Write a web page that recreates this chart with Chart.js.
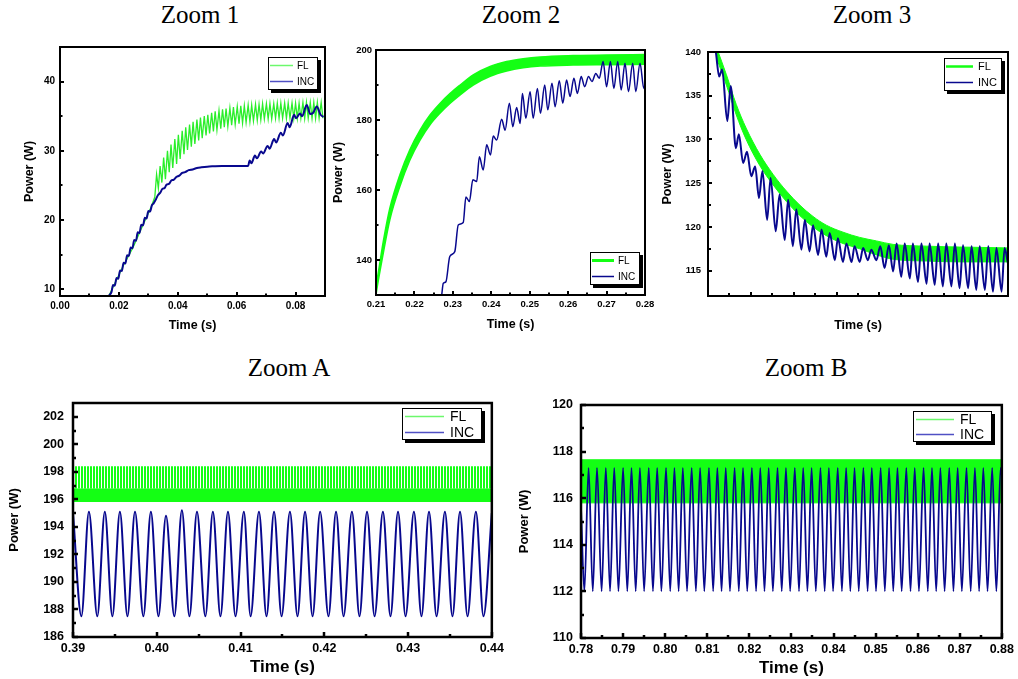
<!DOCTYPE html>
<html>
<head>
<meta charset="utf-8">
<script src="https://cdn.jsdelivr.net/npm/chart.js@4.4.1/dist/chart.umd.min.js"></script>
<style>
  html, body { margin: 0; padding: 0; background: #fff; width: 1018px; height: 679px; overflow: hidden; }
  canvas { position: absolute; }
  .ttl { position: absolute; width: 200px; text-align: center; color: #000;
         font: 25px/25px 'Liberation Serif', 'Times New Roman', serif; }
</style>
</head>
<body>
<div class="ttl" style="left:100px;top:2px">Zoom 1</div>
<div class="ttl" style="left:421px;top:2px">Zoom 2</div>
<div class="ttl" style="left:772px;top:2px">Zoom 3</div>
<div class="ttl" style="left:189px;top:355px">Zoom A</div>
<div class="ttl" style="left:706px;top:355px">Zoom B</div>

<canvas id="zoom1" width="335" height="310" style="left:0px;top:35px"></canvas>
<canvas id="zoom2" width="332" height="310" style="left:328px;top:35px"></canvas>
<canvas id="zoom3" width="358" height="310" style="left:660px;top:35px"></canvas>
<canvas id="zoomA" width="508" height="294" style="left:0px;top:385px"></canvas>
<canvas id="zoomB" width="508" height="294" style="left:510px;top:385px"></canvas>

<script>
Chart.defaults.font.family = "'Liberation Sans', Arial, sans-serif";
Chart.defaults.color = '#000';

const GREEN = '#2aee2a';
const GREEN_FILL = '#14ff14';
const BLUE = '#08088e';
const legendNames = ['FL', 'INC'];

// ---- Zoom 1 ----
const z1TimeTicks = [0, 0.02, 0.04, 0.06, 0.08];
const z1TimeMinor = [0.01, 0.03, 0.05, 0.07];
const z1PowerTicks = [10, 20, 30, 40];
const z1PowerMinor = [15, 25, 35];
const z1IncTime = [0.0167,0.0175,0.0180,0.0186,0.0192,0.0198,0.0204,0.0210,0.0216,0.0222,0.0228,0.0234,0.0240,0.0246,0.0252,0.0258,0.0264,0.0270,0.0276,0.0282,0.0288,0.0294,0.0300,0.0306,0.0312,0.0318,0.0326,0.0333,0.0340,0.0348,0.0355,0.0362,0.0370,0.0378,0.0386,0.0395,0.0405,0.0415,0.0425,0.0437,0.0450,0.0465,0.0480,0.0500,0.0520,0.0550,0.0639,0.0644,0.0650,0.0662,0.0669,0.0683,0.0690,0.0705,0.0712,0.0727,0.0734,0.0750,0.0757,0.0773,0.0780,0.0795,0.0802,0.0815,0.0822,0.0838,0.0850,0.0860,0.0872,0.0885,0.0895];
const z1IncPower = [9.1,9.6,10.6,10.5,11.6,11.5,12.7,12.6,13.8,13.7,14.9,14.8,16.0,15.9,17.1,17.0,18.2,18.1,19.3,19.2,20.3,20.2,21.3,21.2,22.1,22.4,23.0,23.6,23.9,24.5,24.6,25.1,25.2,25.7,25.8,26.2,26.4,26.8,26.9,27.2,27.3,27.5,27.6,27.7,27.75,27.8,27.8,28.6,28.2,29.3,28.9,29.9,29.6,30.7,30.3,31.7,31.2,32.6,32.2,34.0,33.4,35.2,34.7,35.4,35.0,36.6,35.3,35.5,36.4,35.2,34.9];
const z1FlRiseTime = [0.0167,0.0186,0.0214,0.0248,0.0281,0.0310,0.0322];
const z1FlRisePower = [9.1,10.8,13.3,16.0,19.2,21.9,23.3];
const z1FlPeakTime = [0.0328,0.0340,0.0352,0.0365,0.0377,0.0390,0.0402,0.0415,0.0427,0.0440,0.0452,0.0465,0.0477,0.0490,0.0502,0.0515,0.0527,0.0540,0.0552,0.0564,0.0577,0.0589,0.0602,0.0614,0.0626,0.0639,0.0651,0.0664,0.0676,0.0688,0.0701,0.0713,0.0726,0.0738,0.0750,0.0763,0.0775,0.0788,0.0800,0.0812,0.0825,0.0837,0.0850,0.0862,0.0874,0.0887];
const z1FlPeakPower = [26.6,27.8,29.0,30.0,30.9,31.7,32.3,32.9,33.4,33.8,34.2,34.5,34.8,35.0,35.2,35.5,35.7,35.8,36.0,36.1,36.2,36.3,36.4,36.5,36.5,36.6,36.6,36.7,36.7,36.8,36.8,36.8,36.8,36.9,36.9,36.9,36.9,36.9,36.9,36.9,37.0,37.0,37.0,37.0,37.0,37.0];
const z1FlDipTime = [0.0334,0.0346,0.0358,0.0371,0.0383,0.0396,0.0408,0.0421,0.0433,0.0446,0.0458,0.0471,0.0483,0.0496,0.0508,0.0521,0.0533,0.0546,0.0558,0.0570,0.0583,0.0595,0.0608,0.0620,0.0632,0.0645,0.0657,0.0670,0.0682,0.0694,0.0707,0.0719,0.0732,0.0744,0.0756,0.0769,0.0781,0.0794,0.0806,0.0818,0.0831,0.0843,0.0856,0.0868,0.0880,0.0893];
const z1FlDipPower = [24.6,25.4,25.9,26.9,27.5,28.1,28.8,29.5,30.1,30.6,31.0,31.5,31.8,32.2,32.5,32.8,33.0,33.2,33.4,33.5,33.7,33.8,33.9,34.0,34.1,34.2,34.3,34.4,34.5,34.6,34.6,34.6,34.7,34.7,34.7,34.7,34.7,34.7,34.7,34.7,34.7,34.7,34.7,34.7,34.7,34.7];

// ---- Zoom 2 ----
const z2TimeTicks = [0.21, 0.22, 0.23, 0.24, 0.25, 0.26, 0.27, 0.28];
const z2TimeMinor = [0.215, 0.225, 0.235, 0.245, 0.255, 0.265, 0.275];
const z2PowerTicks = [140, 160, 180, 200];
const z2PowerMinor = [150, 170, 190];
const z2FlTime = [0.2100,0.2102,0.2119,0.2136,0.2162,0.2188,0.2215,0.2241,0.2267,0.2293,0.2319,0.2353,0.2397,0.2440,0.2483,0.2527,0.2613,0.2700,0.2800];
const z2FlUpper = [132.8,133.8,145.3,154.8,164.3,171.5,177.2,181.5,184.8,187.6,190.0,192.9,195.3,196.7,197.5,198.0,198.4,198.6,198.7];
const z2FlLower = [130.0,131.5,142.0,151.5,161.0,168.5,174.3,178.7,182.0,184.8,187.2,190.0,192.5,194.0,194.9,195.4,195.7,195.8,195.9];
const z2IncTime = [0.2271,0.2275,0.2282,0.2292,0.2305,0.2314,0.2327,0.2334,0.2343,0.2352,0.2362,0.2369,0.2379,0.2388,0.2398,0.2405,0.2414,0.2427,0.2436,0.2447,0.2456,0.2466,0.2475,0.2481,0.2490,0.2501,0.2509,0.2520,0.2528,0.2539,0.2547,0.2558,0.2566,0.2577,0.2586,0.2596,0.2605,0.2615,0.2624,0.2634,0.2643,0.2653,0.2662,0.2672,0.2681,0.2691,0.2700,0.2710,0.2719,0.2729,0.2738,0.2748,0.2757,0.2768,0.2776,0.2787,0.2797,0.2800];
const z2IncPower = [130,133.3,133.8,141,142.4,150,150.7,158,156.7,162.9,162.4,169.5,165.7,172.9,170,175.4,174.3,180.2,177.1,184.8,178.1,183.6,179,187.6,180.5,188.1,180.5,189,181.9,190,182.9,190.5,183.8,191.2,184.8,191.4,186.7,191.9,187.6,192.4,189.5,192.4,191,193.3,191.9,196.7,189.5,196.7,189,196.7,188.6,196.2,188.1,196.2,188.1,196.2,189,190];

// ---- Zoom 3 ----
const z3TimeTicks = [0.51, 0.52, 0.53, 0.54, 0.55, 0.56];
const z3TimeMinor = [0.505, 0.515, 0.525, 0.535, 0.545, 0.555, 0.565];
const z3PowerTicks = [115, 120, 125, 130, 135, 140];
const z3PowerMinor = [117.5, 122.5, 127.5, 132.5, 137.5];
const z3FlTime = [0.5020,0.5043,0.5066,0.5089,0.5121,0.5152,0.5183,0.5214,0.5245,0.5276,0.5315,0.5354,0.5393,0.5432,0.5510,0.5587,0.5700];
const z3FlUpper = [140.5,137.4,134.0,131.3,128.3,126.0,124.1,122.5,121.2,120.2,119.4,118.8,118.4,118.0,117.8,117.7,117.6];
const z3FlLower = [139.3,136.2,132.8,130.0,127.0,124.8,122.9,121.3,120.0,119.0,118.1,117.5,116.8,116.3,116.1,116.0,116.0];
const z3IncTime = [0.5010,0.5018,0.5026,0.5033,0.5045,0.5053,0.5065,0.5072,0.5082,0.5091,0.5101,0.5110,0.5119,0.5127,0.5138,0.5146,0.5158,0.5167,0.5179,0.5187,0.5198,0.5206,0.5218,0.5226,0.5237,0.5245,0.5257,0.5265,0.5276,0.5284,0.5296,0.5303,0.5315,0.5323,0.5335,0.5342,0.5354,0.5362,0.5373,0.5381,0.5393,0.5402,0.5412,0.5422,0.5432,0.5440,0.5451,0.5459,0.5471,0.5478,0.5490,0.5498,0.5510,0.5517,0.5529,0.5537,0.5548,0.5556,0.5568,0.5576,0.5587,0.5595,0.5607,0.5615,0.5626,0.5634,0.5646,0.5654,0.5665,0.5673,0.5685,0.5692,0.5700];
const z3IncPower = [141.5,140.1,137.2,138.0,132.1,136.1,129.0,130.6,127.3,128.6,125.8,126.9,123.3,126.4,120.8,125.6,119.5,123.7,118.5,123.1,117.8,122.0,117.4,120.8,117.2,120.2,116.8,119.7,116.6,119.3,116.2,118.7,116.0,118.1,116.0,117.8,116.0,117.6,116.2,117.4,116.2,117.8,115.3,117.9,114.9,118.1,114.3,118.1,114.1,118.1,113.7,118.1,113.5,118.1,113.4,118.1,113.2,118.1,113.2,118.1,113.0,117.9,113.0,117.8,112.8,117.8,112.8,117.8,112.6,117.6,112.6,117.6,115.8];

// ---- Zoom A ----
const zaTimeTicks = [0.39, 0.40, 0.41, 0.42, 0.43, 0.44];
const zaTimeMinor = [0.395, 0.405, 0.415, 0.425, 0.435];
const zaPowerTicks = [186, 188, 190, 192, 194, 196, 198, 200, 202];
const zaPowerMinor = [187, 189, 191, 193, 195, 197, 199, 201];
const zaIncPeakTime = [0.3900,0.3919,0.3938,0.3956,0.3974,0.3993,0.4011,0.4030,0.4048,0.4067,0.4085,0.4104,0.4122,0.4140,0.4159,0.4177,0.4195,0.4214,0.4233,0.4251,0.4270,0.4288,0.4307,0.4325,0.4344,0.4362,0.4381,0.4400];
const zaIncPeakPower = [195.0,195.1,195.1,195.1,195.1,195.1,194.8,195.2,195.1,195.1,195.1,195.1,195.1,195.1,195.1,195.1,195.1,195.1,195.1,195.1,195.1,195.1,195.1,195.1,195.1,195.1,195.1,195.0];
const zaIncDipTime = [0.3910,0.3929,0.3947,0.3965,0.3984,0.4002,0.4021,0.4039,0.4058,0.4076,0.4094,0.4112,0.4131,0.4149,0.4168,0.4186,0.4205,0.4223,0.4242,0.4260,0.4279,0.4297,0.4316,0.4334,0.4353,0.4371,0.4390];
const zaIncDipPower = 187.5;
const zaFlTime = [0.39, 0.44];
const zaFlTop = [198.4, 198.4];
const zaFlMid = [196.8, 196.8];
const zaFlBottom = [195.8, 195.8];

// ---- Zoom B ----
const zbTimeTicks = [0.78, 0.79, 0.80, 0.81, 0.82, 0.83, 0.84, 0.85, 0.86, 0.87, 0.88];
const zbTimeMinor = [0.785, 0.795, 0.805, 0.815, 0.825, 0.835, 0.845, 0.855, 0.865, 0.875];
const zbPowerTicks = [110, 112, 114, 116, 118, 120];
const zbPowerMinor = [111, 113, 115, 117, 119];
const zbIncPeakTime = [0.7818,0.7838,0.7859,0.7879,0.7900,0.7920,0.7940,0.7961,0.7981,0.8002,0.8022,0.8042,0.8063,0.8083,0.8104,0.8124,0.8144,0.8165,0.8185,0.8206,0.8226,0.8246,0.8267,0.8287,0.8308,0.8328,0.8348,0.8369,0.8389,0.8410,0.8430,0.8450,0.8471,0.8491,0.8512,0.8532,0.8552,0.8573,0.8593,0.8614,0.8634,0.8654,0.8675,0.8695,0.8716,0.8736,0.8756,0.8777,0.8797];
const zbIncPeakPower = 117.3;
const zbIncDipTime = [0.7808,0.7828,0.7849,0.7869,0.7889,0.7910,0.7930,0.7950,0.7971,0.7991,0.8012,0.8032,0.8052,0.8073,0.8093,0.8114,0.8134,0.8154,0.8175,0.8195,0.8216,0.8236,0.8256,0.8277,0.8297,0.8318,0.8338,0.8358,0.8379,0.8399,0.8420,0.8440,0.8460,0.8481,0.8501,0.8522,0.8542,0.8562,0.8583,0.8603,0.8624,0.8644,0.8664,0.8685,0.8705,0.8726,0.8746,0.8766,0.8787];
const zbIncDipPower = 112.0;
const zbIncEdgeTime = [0.78, 0.88];
const zbIncEdgePower = [115.6, 117.0];
const zbFlTime = [0.78, 0.88];
const zbFlTop = [117.65, 117.65];
const zbFlBottom = [115.8, 115.8];

// helpers
const pts = (t, p) => t.map((x, i) => ({ x, y: Array.isArray(p) ? p[i] : p }));
const byTime = (...lists) => [].concat(...lists).sort((a, b) => a.x - b.x);

function stripes(color) {
    const c = document.createElement('canvas');
    c.width = 3; c.height = 8;
    const g = c.getContext('2d');
    g.fillStyle = '#fff';
    g.fillRect(0, 0, 3, 8);
    g.fillStyle = color;
    g.fillRect(0, 0, 2, 8);
    return g.createPattern(c, 'repeat');
}

function drawLegend(ctx, a, L) {
    const x = Math.round(a.right - L.right - L.w);
    const y = Math.round(L.top != null ? a.top + L.top : a.bottom - L.bottom - L.h);
    ctx.fillStyle = '#000';
    ctx.fillRect(x + L.shadow, y + L.shadow, L.w, L.h);
    ctx.fillStyle = '#fff';
    ctx.fillRect(x, y, L.w, L.h);
    ctx.lineWidth = 1;
    ctx.strokeStyle = '#000';
    ctx.strokeRect(x + 0.5, y + 0.5, L.w - 1, L.h - 1);
    ctx.font = L.size + "px 'Liberation Sans', Arial, sans-serif";
    ctx.textAlign = 'left';
    ctx.textBaseline = 'middle';
    legendNames.forEach((name, i) => {
        const ry = Math.round(y + L.h * (i ? 0.74 : 0.25)) + 0.5;
        ctx.strokeStyle = L.colors[i];
        ctx.lineWidth = L.lw[i];
        ctx.beginPath();
        ctx.moveTo(x + L.lineX, ry);
        ctx.lineTo(x + L.lineX + L.lineLen, ry);
        ctx.stroke();
        ctx.fillStyle = '#000';
        ctx.fillText(name, x + L.textX, ry + 0.5);
    });
}

// frame, inward tick marks and legend box
function framePlugin(spec) {
    return {
        id: 'frame_' + spec.id,
        afterDatasetsDraw(chart) {
            const { ctx, chartArea: a, scales: { x, y } } = chart;
            ctx.save();
            ctx.strokeStyle = '#000';
            ctx.lineWidth = spec.tickWidth;
            ctx.beginPath();
            const xMark = (list, len) => list.forEach(v => {
                const px = Math.round(x.getPixelForValue(v));
                ctx.moveTo(px, a.bottom); ctx.lineTo(px, a.bottom - len);
            });
            const yMark = (list, len) => list.forEach(v => {
                const py = Math.round(y.getPixelForValue(v));
                ctx.moveTo(a.left, py); ctx.lineTo(a.left + len, py);
            });
            xMark(spec.xTicks, spec.major); xMark(spec.xMinor, spec.minor);
            yMark(spec.yTicks, spec.major); yMark(spec.yMinor, spec.minor);
            ctx.stroke();
            ctx.lineWidth = spec.frameWidth;
            ctx.strokeRect(a.left, a.top, a.right - a.left, a.bottom - a.top);
            drawLegend(ctx, a, spec.legend);
            ctx.restore();
        }
    };
}

function makePanel(spec) {
    const tickFont = { size: spec.tickSize, weight: 'bold' };
    return new Chart(document.getElementById(spec.id), {
        type: 'line',
        data: { datasets: spec.datasets },
        options: {
            responsive: false,
            animation: false,
            events: [],
            layout: { padding: { left: 0, top: spec.padTop, right: spec.padRight, bottom: 0 } },
            elements: { point: { radius: 0 } },
            plugins: { legend: { display: false }, tooltip: { enabled: false } },
            scales: {
                x: {
                    type: 'linear', min: spec.xMin, max: spec.xMax,
                    grid: { display: false, drawTicks: false },
                    border: { display: false },
                    afterBuildTicks: s => { s.ticks = spec.xTicks.map(value => ({ value })); },
                    afterFit: s => { s.height = spec.xBox; },
                    ticks: { display: spec.xLabels, autoSkip: false, maxRotation: 0, padding: spec.xTickPad,
                             color: '#000', font: tickFont, callback: v => v.toFixed(2) },
                    title: { display: true, text: 'Time (s)', color: '#000',
                             font: { size: spec.xTitleSize, weight: 'bold' }, padding: { top: 0, bottom: spec.xTitlePad } }
                },
                y: {
                    type: 'linear', min: spec.yMin, max: spec.yMax,
                    grid: { display: false, drawTicks: false },
                    border: { display: false },
                    afterBuildTicks: s => { s.ticks = spec.yTicks.map(value => ({ value })); },
                    afterFit: s => { s.width = spec.yBox; },
                    ticks: { autoSkip: false, padding: spec.yTickPad, color: '#000', font: tickFont, callback: v => String(v) },
                    title: { display: true, text: 'Power (W)', color: '#000',
                             font: { size: spec.yTitleSize, weight: 'bold' }, padding: { top: spec.yTitlePad, bottom: 0 } }
                }
            }
        },
        plugins: [framePlugin(spec)]
    });
}

const lightLegend = ['#6cf86c', '#5050c4'];

// Zoom 1
makePanel({
    id: 'zoom1', padTop: 12, padRight: 10, yBox: 60, xBox: 49,
    xMin: 0, xMax: 0.09, yMin: 9, yMax: 45,
    xTicks: z1TimeTicks, xMinor: z1TimeMinor, yTicks: z1PowerTicks, yMinor: z1PowerMinor,
    xLabels: true, tickSize: 10, xTickPad: 4, yTickPad: 5,
    xTitleSize: 12.5, xTitlePad: 11.5, yTitleSize: 12.5, yTitlePad: 22.5,
    tickWidth: 2, major: 4, minor: 2.5, frameWidth: 2,
    legend: { right: 7, top: 10, w: 50, h: 33, shadow: 3, lineX: 2, lineLen: 23, textX: 29, size: 10, colors: lightLegend, lw: [1.5, 1.5] },
    datasets: [
        { data: pts(z1IncTime, z1IncPower), borderColor: BLUE, borderWidth: 2, cubicInterpolationMode: 'monotone' },
        { data: byTime(pts(z1FlRiseTime, z1FlRisePower), pts(z1FlPeakTime, z1FlPeakPower), pts(z1FlDipTime, z1FlDipPower)),
          borderColor: GREEN, borderWidth: 1.3, tension: 0 }
    ]
});

// Zoom 2
makePanel({
    id: 'zoom2', padTop: 15, padRight: 15, yBox: 48, xBox: 50,
    xMin: 0.21, xMax: 0.28, yMin: 130, yMax: 200,
    xTicks: z2TimeTicks, xMinor: z2TimeMinor, yTicks: z2PowerTicks, yMinor: z2PowerMinor,
    xLabels: true, tickSize: 9.5, xTickPad: 4, yTickPad: 4,
    xTitleSize: 12.5, xTitlePad: 12.5, yTitleSize: 12.5, yTitlePad: 3.5,
    tickWidth: 2, major: 4, minor: 2.5, frameWidth: 2,
    legend: { right: 5, bottom: 10, w: 50, h: 33, shadow: 3, lineX: 2, lineLen: 22, textX: 28, size: 10, colors: [GREEN_FILL, BLUE], lw: [3, 1.5] },
    datasets: [
        { data: pts(z2IncTime, z2IncPower), borderColor: BLUE, borderWidth: 1.5, cubicInterpolationMode: 'monotone' },
        { data: pts(z2FlTime, z2FlUpper), borderColor: GREEN_FILL, borderWidth: 1.5, backgroundColor: GREEN_FILL, fill: '+1', cubicInterpolationMode: 'monotone' },
        { data: pts(z2FlTime, z2FlLower), borderColor: GREEN_FILL, borderWidth: 1.5, cubicInterpolationMode: 'monotone' }
    ]
});

// Zoom 3
makePanel({
    id: 'zoom3', padTop: 17, padRight: 10, yBox: 48, xBox: 49,
    xMin: 0.50, xMax: 0.57, yMin: 112.1, yMax: 140,
    xTicks: z3TimeTicks, xMinor: z3TimeMinor, yTicks: z3PowerTicks, yMinor: z3PowerMinor,
    xLabels: false, tickSize: 9.5, xTickPad: 4, yTickPad: 7,
    xTitleSize: 12.5, xTitlePad: 11.5, yTitleSize: 12.5, yTitlePad: 0,
    tickWidth: 2, major: 4, minor: 3, frameWidth: 2,
    legend: { right: 6, top: 6, w: 58, h: 33, shadow: 3, lineX: 2, lineLen: 27, textX: 34, size: 11, colors: [GREEN_FILL, BLUE], lw: [2.5, 1.5] },
    datasets: [
        { data: pts(z3IncTime, z3IncPower), borderColor: BLUE, borderWidth: 2, cubicInterpolationMode: 'monotone' },
        { data: pts(z3FlTime, z3FlUpper), borderColor: GREEN_FILL, borderWidth: 1, backgroundColor: GREEN_FILL, fill: '+1', cubicInterpolationMode: 'monotone' },
        { data: pts(z3FlTime, z3FlLower), borderColor: GREEN_FILL, borderWidth: 1, cubicInterpolationMode: 'monotone' }
    ]
});

// Zoom A
makePanel({
    id: 'zoomA', padTop: 18, padRight: 16, yBox: 73, xBox: 42,
    xMin: 0.39, xMax: 0.44, yMin: 186, yMax: 203,
    xTicks: zaTimeTicks, xMinor: zaTimeMinor, yTicks: zaPowerTicks, yMinor: zaPowerMinor,
    xLabels: true, tickSize: 12.5, xTickPad: 4, yTickPad: 9,
    xTitleSize: 17, xTitlePad: 1.8, yTitleSize: 13, yTitlePad: 7,
    tickWidth: 2.5, major: 5, minor: 3, frameWidth: 2.5,
    legend: { right: 10, top: 5, w: 80, h: 32, shadow: 3, lineX: 3, lineLen: 39, textX: 48, size: 14, colors: lightLegend, lw: [1.5, 1.5] },
    datasets: [
        { data: byTime(pts(zaIncPeakTime, zaIncPeakPower), pts(zaIncDipTime, zaIncDipPower)),
          borderColor: BLUE, borderWidth: 2, cubicInterpolationMode: 'monotone' },
        { data: pts(zaFlTime, zaFlTop), borderColor: 'rgba(0,0,0,0)', borderWidth: 1, backgroundColor: stripes(GREEN_FILL), fill: '+1' },
        { data: pts(zaFlTime, zaFlMid), borderColor: 'rgba(0,0,0,0)', borderWidth: 1, backgroundColor: GREEN_FILL, fill: '+1' },
        { data: pts(zaFlTime, zaFlBottom), borderColor: 'rgba(0,0,0,0)', borderWidth: 1 }
    ]
});

// Zoom B
makePanel({
    id: 'zoomB', padTop: 20, padRight: 16, yBox: 71, xBox: 41,
    xMin: 0.78, xMax: 0.88, yMin: 110, yMax: 120,
    xTicks: zbTimeTicks, xMinor: zbTimeMinor, yTicks: zbPowerTicks, yMinor: zbPowerMinor,
    xLabels: true, tickSize: 12.5, xTickPad: 4, yTickPad: 8,
    xTitleSize: 17, xTitlePad: 0.8, yTitleSize: 13, yTitlePad: 7,
    tickWidth: 2.5, major: 5, minor: 3, frameWidth: 2.5,
    legend: { right: 10, top: 6, w: 79, h: 31, shadow: 3, lineX: 3, lineLen: 38, textX: 47, size: 14, colors: lightLegend, lw: [1.5, 1.5] },
    datasets: [
        { data: byTime(pts(zbIncEdgeTime, zbIncEdgePower), pts(zbIncPeakTime, zbIncPeakPower), pts(zbIncDipTime, zbIncDipPower)),
          borderColor: BLUE, borderWidth: 1.8, cubicInterpolationMode: 'monotone' },
        { data: pts(zbFlTime, zbFlTop), borderColor: GREEN_FILL, borderWidth: 1, backgroundColor: GREEN_FILL, fill: '+1' },
        { data: pts(zbFlTime, zbFlBottom), borderColor: GREEN_FILL, borderWidth: 1 }
    ]
});
</script>
</body>
</html>
